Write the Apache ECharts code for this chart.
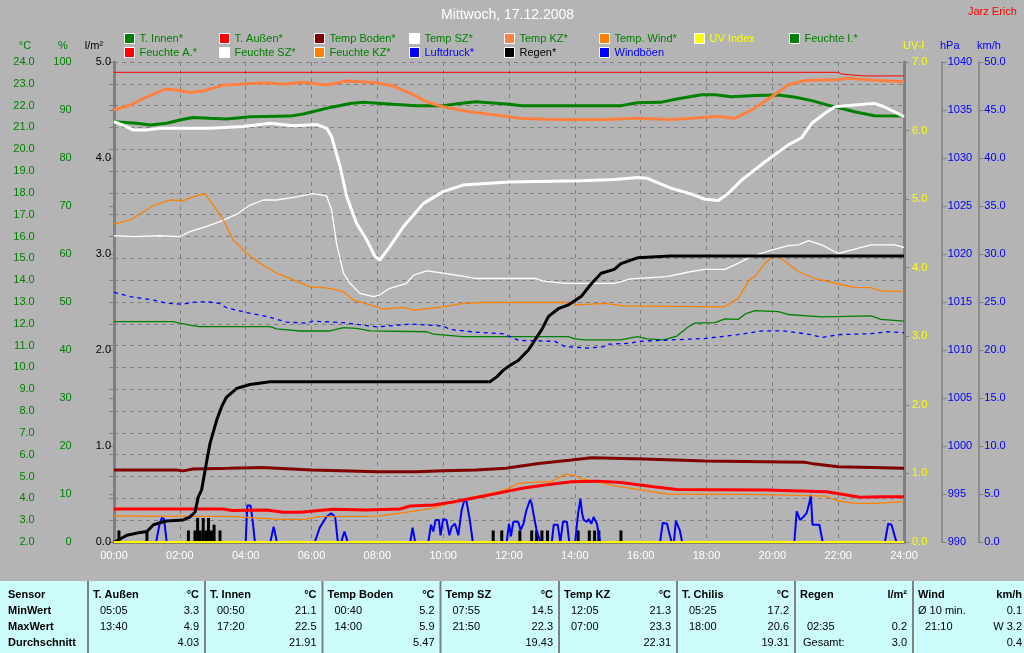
<!DOCTYPE html>
<html><head><meta charset="utf-8">
<script src="https://cdn.jsdelivr.net/npm/echarts@6/dist/echarts.min.js"></script>
<style>html,body{margin:0;padding:0;background:#b4b4b4;}#c{width:1024px;height:653px;}</style>
</head><body><div id="c"></div><script>
// ---------- DATA (hour of day, value) ----------
const tInnen = [[0,21.26],[0.69,21.19],[1.1,21.11],[1.6,21.19],[2.0,21.34],[2.4,21.46],[2.9,21.42],[3.42,21.39],[4.13,21.49],[5.35,21.52],[5.75,21.62],[6.46,21.88],[7.17,22.1],[7.57,22.15],[8.48,22.06],[9.2,22.0],[10.0,22.0],[10.5,22.1],[11.0,22.18],[12.0,22.06],[12.4,22.0],[15.4,22.0],[15.9,22.13],[16.6,22.15],[17.1,22.3],[17.85,22.5],[18.26,22.5],[18.76,22.41],[19.47,22.47],[20.18,22.49],[20.7,22.38],[21.2,22.23],[21.8,21.98],[22.5,21.72],[23.1,21.54],[24,21.52]];
const tAussen = [[0,3.51],[3.3,3.51],[3.6,3.44],[4.64,3.47],[5.14,3.36],[5.65,3.36],[6.65,3.5],[7.68,3.47],[8.69,3.51],[9.0,3.65],[9.7,3.7],[10.3,3.83],[11.2,4.1],[12.2,4.4],[12.4,4.46],[13.1,4.61],[13.9,4.76],[14.7,4.79],[15.4,4.73],[16.4,4.53],[17.1,4.41],[19.8,4.38],[21.65,4.3],[22.26,4.15],[22.66,4.05],[23.37,4.07],[24,4.07]];
const tBoden = [[0,5.3],[1.9,5.3],[2.1,5.26],[2.4,5.35],[3.5,5.38],[4.5,5.41],[5.4,5.35],[6.0,5.3],[6.6,5.28],[8.0,5.22],[9.2,5.22],[10.0,5.26],[11.0,5.3],[11.9,5.38],[12.9,5.6],[13.9,5.76],[14.5,5.86],[16.1,5.8],[17.95,5.71],[21.0,5.65],[21.3,5.57],[22.0,5.45],[24,5.38]];
const tSZ = [[0,21.26],[0.28,21.11],[0.59,20.88],[0.99,20.88],[1.4,20.96],[2.9,20.96],[3.93,21.04],[4.74,21.19],[5.45,21.08],[6.16,21.14],[6.46,20.96],[6.61,20.58],[6.87,19.2],[7.07,17.83],[7.37,16.6],[7.68,15.84],[7.93,15.08],[8.08,14.93],[8.38,15.54],[8.79,16.45],[9.4,17.52],[10.0,18.06],[10.6,18.36],[12.0,18.5],[14.2,18.56],[15.2,18.62],[15.9,18.71],[16.2,18.67],[16.94,18.21],[17.55,17.94],[17.95,17.71],[18.36,17.65],[18.66,17.98],[19.07,18.59],[19.78,19.43],[20.48,20.2],[20.89,20.53],[21.2,21.19],[21.6,21.65],[21.9,21.95],[22.5,22.03],[23.1,22.1],[23.4,21.95],[24,21.5]];
const tKZ = [[0,21.8],[0.5,22.03],[0.9,22.33],[1.55,22.76],[1.9,22.72],[2.3,22.6],[2.7,22.67],[3.3,22.93],[3.93,22.99],[4.64,23.05],[5.14,22.98],[5.75,23.07],[6.46,22.95],[7.07,23.13],[7.98,23.05],[8.48,22.9],[9.0,22.57],[9.5,22.18],[10.0,21.95],[10.8,21.72],[12.0,21.49],[12.3,21.42],[13.4,21.37],[14.9,21.37],[15.9,21.42],[16.95,21.37],[18.35,21.5],[18.86,21.42],[19.37,21.8],[19.98,22.41],[20.48,22.95],[20.99,23.15],[22.0,23.2],[22.3,23.25],[23.0,23.17],[24,23.1]];
const tWind = [[0,3.19],[3.5,3.17],[4.0,3.13],[5.0,3.04],[5.8,3.04],[6.2,3.16],[8.0,3.19],[8.7,3.32],[9.7,3.55],[10.5,3.93],[11.7,4.31],[12.0,4.46],[12.3,4.7],[13.3,4.78],[13.7,5.1],[14.0,5.05],[14.15,4.92],[14.7,4.76],[15.2,4.57],[15.9,4.41],[16.8,4.2],[19.0,4.18],[20.5,4.15],[21.6,4.1],[22.0,3.89],[22.5,3.77],[23.2,3.77],[24,3.85]];
const uvIndex = [[0,0],[24,0]];
const fInnen = [[0,45.9],[1.8,45.9],[2.0,45.6],[2.3,45.2],[2.6,44.85],[4.74,44.85],[4.94,44.4],[5.65,43.96],[6.56,43.96],[6.97,44.65],[7.37,44.5],[7.78,44.0],[9.5,43.8],[9.7,43.3],[10.6,42.8],[13.8,42.8],[14.0,42.3],[14.3,42.1],[15.4,42.1],[15.9,42.8],[16.2,42.3],[16.7,42.1],[17.1,42.9],[17.45,44.85],[17.65,45.6],[18.26,45.7],[18.56,46.5],[18.97,46.4],[19.2,47.6],[19.47,48.2],[20.18,48.0],[20.48,47.4],[21.5,46.9],[23.0,47.1],[23.3,46.4],[24,46.0]];
const fAussen = [[0,97.85],[22.0,97.85],[22.1,97.5],[22.4,97.3],[22.8,97.1],[24,97.1]];
const fSZ = [[0,63.8],[0.6,63.6],[1.4,63.8],[2.0,63.6],[2.3,64.65],[2.7,65.5],[3.2,66.7],[3.73,68.3],[4.13,70.2],[4.54,71.25],[4.94,71.25],[5.55,71.9],[6.05,72.6],[6.46,72.1],[6.61,69.2],[6.76,62.2],[6.97,56.0],[7.17,53.9],[7.47,51.8],[7.88,51.1],[8.08,51.5],[8.38,52.85],[8.89,53.9],[9.1,55.6],[9.5,56.5],[10.0,56.0],[11.0,54.9],[12.8,54.9],[13.0,54.4],[13.7,53.9],[15.2,53.9],[15.7,54.8],[16.8,55.3],[17.5,56.3],[17.95,56.8],[18.56,56.8],[18.97,58.1],[19.37,59.5],[19.98,60.8],[20.48,61.75],[20.8,61.9],[21.1,62.8],[21.5,61.9],[22.0,60.1],[22.5,61.0],[23.0,61.9],[23.7,61.9],[24,61.4]];
const fKZ = [[0,66.2],[0.5,67.1],[0.9,68.8],[1.2,70.1],[1.7,71.25],[2.1,71.1],[2.4,71.9],[2.76,72.6],[3.02,70.2],[3.32,67.1],[3.62,62.9],[4.03,60.1],[4.44,58.1],[4.94,56.0],[5.45,54.6],[5.95,53.2],[6.56,52.85],[6.97,52.15],[7.27,50.4],[7.88,49.2],[8.18,48.5],[8.79,48.9],[9.1,48.3],[10.0,49.0],[10.5,49.6],[11.2,49.9],[13.8,49.9],[14.1,49.4],[14.9,49.7],[15.5,49.2],[18.55,49.0],[18.97,50.8],[19.3,54.6],[19.47,55.3],[19.78,58.1],[20.08,59.8],[20.4,58.4],[20.8,56.3],[21.3,54.9],[22.0,53.75],[22.5,53.05],[23.0,53.0],[23.3,52.3],[24,52.15]];
const luftdruck = [[0,1016.0],[0.5,1015.55],[1.2,1015.2],[1.6,1014.86],[2.1,1014.76],[2.4,1014.97],[2.8,1015.03],[3.2,1014.86],[3.42,1014.4],[4.03,1013.9],[4.64,1013.5],[5.25,1012.9],[5.85,1012.8],[6.05,1013.0],[6.97,1012.85],[7.98,1012.4],[9.0,1012.7],[10.0,1012.5],[10.2,1012.15],[11.0,1011.85],[11.8,1011.7],[12.3,1011.0],[13.4,1010.9],[13.7,1010.35],[14.4,1010.2],[14.9,1010.35],[15.0,1010.6],[15.7,1010.7],[15.9,1010.9],[17.95,1011.2],[18.97,1011.6],[19.7,1012.0],[20.3,1012.0],[21.2,1011.6],[21.5,1011.3],[22.0,1011.6],[23.0,1011.7],[23.5,1011.9],[24,1011.8]];
const regenSumme = [[0,0],[0.08,0.01],[0.39,0.07],[0.8,0.1],[1.0,0.11],[1.2,0.18],[1.6,0.22],[2.1,0.23],[2.3,0.26],[2.46,0.31],[2.56,0.47],[2.66,0.54],[2.82,0.85],[2.92,1.03],[3.12,1.27],[3.27,1.41],[3.42,1.51],[3.73,1.6],[4.13,1.64],[4.74,1.67],[11.42,1.67],[11.63,1.72],[11.83,1.79],[12.03,1.84],[12.28,1.89],[12.59,2.0],[12.99,2.21],[13.2,2.35],[13.5,2.43],[13.8,2.47],[14.2,2.56],[14.5,2.69],[14.8,2.8],[15.2,2.84],[15.4,2.9],[15.9,2.96],[16.9,2.98],[24,2.98]];
const regenIntervall = [[0.15,0.12],[1.0,0.12],[2.26,0.12],[2.46,0.12],[2.54,0.25],[2.62,0.12],[2.71,0.25],[2.79,0.12],[2.87,0.25],[2.96,0.12],[3.04,0.18],[3.22,0.12],[11.52,0.12],[11.78,0.12],[12.33,0.12],[12.69,0.12],[12.84,0.12],[13.0,0.12],[13.17,0.12],[14.1,0.12],[14.44,0.12],[14.6,0.12],[14.73,0.12],[15.4,0.12]];
const windboeen = [[0,0],[1.28,0],[1.38,1.8],[1.45,2.5],[1.52,2.4],[1.6,0],[4.0,0],[4.05,3.8],[4.15,3.8],[4.22,2.0],[4.28,0],[4.75,0],[4.85,1.6],[4.95,0],[6.1,0],[6.25,1.5],[6.45,2.6],[6.6,3.0],[6.72,2.6],[6.8,0],[6.9,0],[7.0,1.1],[7.1,0],[9.0,0],[9.07,1.5],[9.15,0],[9.55,0],[9.63,1.8],[9.7,1.1],[9.77,2.3],[9.87,2.3],[9.92,0.7],[10.0,2.4],[10.1,2.3],[10.19,0.7],[10.26,1.6],[10.36,1.9],[10.46,0.7],[10.56,3.3],[10.66,4.55],[10.71,4.2],[10.81,2.3],[10.9,0],[11.93,0],[12.0,1.9],[12.06,0.6],[12.13,2.1],[12.28,2.1],[12.35,1.25],[12.44,1.9],[12.52,3.2],[12.64,4.4],[12.69,4.0],[12.74,3.0],[12.84,1.2],[12.95,0],[13.3,0],[13.36,1.8],[13.48,1.8],[13.56,0],[13.64,2.1],[13.76,2.1],[13.83,0],[14.01,0],[14.1,3.0],[14.17,4.5],[14.22,3.0],[14.27,2.3],[14.37,2.1],[14.42,2.4],[14.5,1.9],[14.57,2.6],[14.67,1.9],[14.77,0],[16.59,0],[16.67,2.0],[16.8,1.9],[16.87,0.9],[16.94,0],[17.01,0],[17.07,2.2],[17.19,1.2],[17.26,0],[20.67,0],[20.74,3.2],[20.84,2.3],[20.94,2.6],[21.04,3.0],[21.12,4.0],[21.17,4.9],[21.22,1.8],[21.43,1.8],[21.53,0],[23.42,0],[23.52,1.9],[23.62,1.8],[23.72,0.6],[23.77,0],[24,0]];

// legend rows
const legendRow1 = ['T. Innen*','T. Außen*','Temp Boden*','Temp SZ*','Temp KZ*','Temp. Wind*','UV Index','Feuchte I.*'];
const legendRow2 = ['Feuchte A.*','Feuchte SZ*','Feuchte KZ*','Luftdruck*','Regen*','Windböen'];

// axis units
const axisUnits = ['°C','%','l/m²','UV-I','hPa','km/h'];

// summary table
const tableRowLabels = ['Sensor','MinWert','MaxWert','Durchschnitt'];
const tableSensors = ['T. Außen','T. Innen','Temp Boden','Temp SZ','Temp KZ','T. Chilis','Regen','Wind'];
const tableUnits = ['°C','°C','°C','°C','°C','°C','l/m²','km/h'];
const tableMinTime = ['05:05','00:50','00:40','07:55','12:05','05:25','','Ø 10 min.'];
const tableMinVal = ['3.3','21.1','5.2','14.5','21.3','17.2','','0.1'];
const tableMaxTime = ['13:40','17:20','14:00','21:50','07:00','18:00','02:35','21:10'];
const tableMaxVal = ['4.9','22.5','5.9','22.3','23.3','20.6','0.2','W 3.2'];
const tableAvgLabel = ['','','','','','','Gesamt:',''];
const tableAvgVal = ['4.03','21.91','5.47','19.43','22.31','19.31','3.0','0.4'];

// ---------- STYLE ----------
const F = '"Liberation Sans", Arial, Helvetica, sans-serif';
const GREEN = '#008000', BLUE = '#0000ff', YELLOW = '#ffff00', GRID = '#808080';
const textColorOf = n => n === 'UV Index' ? YELLOW : (n === 'Luftdruck*' || n === 'Windböen') ? BLUE : n === 'Regen*' ? '#000000' : GREEN;

const legends = [];
legendRow1.forEach((n, i) => legends.push({n, left: 124 + 95 * i, top: 33}));
legendRow2.forEach((n, i) => legends.push({n, left: 124 + 95 * i, top: 47}));
const legendOpts = legends.map(o => ({
  data: [o.n], left: o.left, top: o.top, padding: 0, itemGap: 0, itemWidth: 10, itemHeight: 10,
  icon: 'rect', selectedMode: false, orient: 'horizontal',
  itemStyle: {borderColor: '#ffffff', borderWidth: 1},
  textStyle: {color: textColorOf(o.n), fontSize: 11, fontFamily: F}
}));

function yAxis(o) {
  return {
    type: 'value', position: o.pos, offset: o.offset, min: o.min, max: o.max, interval: o.interval,
    axisLine: {show: true, lineStyle: {color: GRID, width: o.lineW || 1.5}},
    axisTick: {show: true, length: o.tick || 5, lineStyle: {color: GRID}},
    axisLabel: {color: o.color, fontSize: 11, fontFamily: F, margin: o.margin || 6,
      formatter: v => o.dec ? v.toFixed(o.dec) : String(v)},
    splitLine: {show: !!o.split, lineStyle: {color: GRID, type: [4, 4], width: 1}}
  };
}

const line = (name, data, yIdx, color, width, extra) => Object.assign({
  name, type: 'line', data, yAxisIndex: yIdx, showSymbol: false, symbol: 'none',
  lineStyle: {color, width}, itemStyle: {color}, silent: true
}, extra || {});

// ---------- GRAPHICS: axis unit captions + table ----------
const g = [];
const txt = (text, x, y, align, bold, color, size) => ({type: 'text', x, y, z: 3,
  style: {text, fill: color || '#000', font: (bold ? 'bold ' : '') + (size || 11) + 'px ' + F,
    align, verticalAlign: 'middle', textAlign: align, textVerticalAlign: 'middle'}});
// unit captions above the axes
const unitPos = [[25,'center',GREEN],[63,'center',GREEN],[94,'center','#000'],[903,'left',YELLOW],[940,'left',BLUE],[977,'left',BLUE]];
axisUnits.forEach((u, i) => g.push(txt(u, unitPos[i][0], 46, unitPos[i][1], false, unitPos[i][2])));

const seps = [88, 205, 322.5, 440.5, 559, 677, 795, 913];
const rowY = [595, 611, 627, 643];
g.push({type: 'rect', shape: {x: 0, y: 581, width: 1024, height: 72}, style: {fill: '#ccfcfc'}, z: 1});
seps.forEach(s => g.push({type: 'line', shape: {x1: s, y1: 581, x2: s, y2: 653}, style: {stroke: GRID, lineWidth: 2}, z: 2}));
tableRowLabels.forEach((t, r) => g.push(txt(t, 8, rowY[r], 'left', true)));
tableSensors.forEach((name, i) => {
  const s = seps[i], right = (i < seps.length - 1 ? seps[i + 1] : 1028) - 6;
  g.push(txt(name, s + 5, rowY[0], 'left', true));
  g.push(txt(tableUnits[i], right, rowY[0], 'right', true));
  const isTime = t => /^\d\d:\d\d$/.test(t);
  if (tableMinTime[i]) g.push(txt(tableMinTime[i], s + (isTime(tableMinTime[i]) ? 12 : 5), rowY[1], 'left'));
  if (tableMinVal[i]) g.push(txt(tableMinVal[i], right, rowY[1], 'right'));
  if (tableMaxTime[i]) g.push(txt(tableMaxTime[i], s + 12, rowY[2], 'left'));
  g.push(txt(tableMaxVal[i], right, rowY[2], 'right'));
  if (tableAvgLabel[i]) g.push(txt(tableAvgLabel[i], s + 8, rowY[3], 'left'));
  g.push(txt(tableAvgVal[i], right, rowY[3], 'right'));
});

const chart = echarts.init(document.getElementById('c'), null, {renderer: 'canvas'});
chart.setOption({
  animation: false,
  backgroundColor: '#b4b4b4',
  title: [
    {text: 'Mittwoch, 17.12.2008', left: 441, top: 8, padding: 0, textStyle: {color: '#ffffff', fontSize: 14, fontWeight: 'normal', fontFamily: F}},
    {text: 'Jarz Erich', left: 968, top: 6, padding: 0, textStyle: {color: '#ff0000', fontSize: 11, fontWeight: 'normal', fontFamily: F}}
  ],
  legend: legendOpts,
  grid: {left: 114, right: 120, top: 62, bottom: 111, containLabel: false},
  xAxis: [
    {type: 'value', min: 0, max: 24, interval: 2, position: 'bottom',
      axisLine: {show: false}, axisTick: {show: false},
      axisLabel: {color: '#ffffff', fontSize: 11, fontFamily: F, margin: 8, showMinLabel: true, showMaxLabel: true,
        formatter: v => (v < 10 ? '0' : '') + v + ':00'},
      splitLine: {show: true, lineStyle: {color: GRID, type: [4, 4], width: 1}}},
    {type: 'value', min: 0, max: 24, position: 'top',
      axisLine: {show: true, lineStyle: {color: GRID, width: 3}}, axisTick: {show: false},
      axisLabel: {show: false}, splitLine: {show: false}}
  ],
  yAxis: [
    yAxis({pos: 'left', offset: 73.3, min: 2, max: 24, interval: 1, color: GREEN, dec: 1, split: true}),
    yAxis({pos: 'left', offset: 36.3, min: 0, max: 100, interval: 10, color: GREEN}),
    yAxis({pos: 'left', offset: 0, min: 0, max: 5, interval: 1, color: '#000000', dec: 1, lineW: 3, tick: 3, margin: 3}),
    yAxis({pos: 'right', offset: 0, min: 0, max: 7, interval: 1, color: YELLOW, dec: 1, lineW: 3, margin: 8}),
    yAxis({pos: 'right', offset: 37.7, min: 990, max: 1040, interval: 5, color: BLUE}),
    yAxis({pos: 'right', offset: 74.3, min: 0, max: 50, interval: 5, color: BLUE, dec: 1})
  ],
  graphic: {elements: g},
  series: [
    {name: 'Regen (Intervall)', type: 'bar', data: regenIntervall, yAxisIndex: 2, barWidth: 3, itemStyle: {color: '#000000'}, silent: true},
    line('Windböen', windboeen, 5, BLUE, 2),
    line('Feuchte A.*', fAussen, 1, '#ff0000', 1),
    line('Feuchte SZ*', fSZ, 1, '#ffffff', 1.3),
    line('Feuchte KZ*', fKZ, 1, '#ff8000', 1.3),
    line('Feuchte I.*', fInnen, 1, GREEN, 1.3),
    line('Luftdruck*', luftdruck, 4, BLUE, 1.3, {lineStyle: {color: BLUE, width: 1.3, type: [4, 4]}}),
    line('Temp. Wind*', tWind, 0, '#ff8000', 1.3),
    line('Temp Boden*', tBoden, 0, '#800000', 3),
    line('T. Außen*', tAussen, 0, '#ff0000', 3),
    line('T. Innen*', tInnen, 0, GREEN, 3),
    line('Temp KZ*', tKZ, 0, '#ff8040', 3),
    line('Temp SZ*', tSZ, 0, '#ffffff', 3),
    line('Regen*', regenSumme, 2, '#000000', 3),
    line('UV Index', uvIndex, 3, YELLOW, 2, {clip: false})
  ]
});
</script></body></html>
